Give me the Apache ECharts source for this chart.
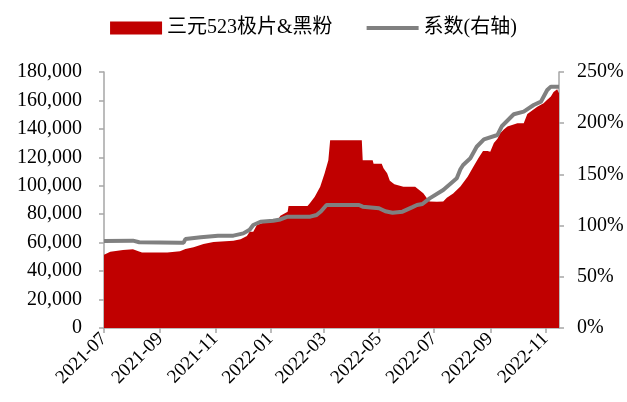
<!DOCTYPE html>
<html>
<head>
<meta charset="utf-8">
<script src="https://cdn.jsdelivr.net/npm/echarts@6/dist/echarts.min.js"></script>
<style>
  html, body { margin: 0; padding: 0; background: #fff; }
  #chart { width: 627px; height: 402px; }
</style>
</head>
<body>
<div id="chart"></div>
<script>
// 三元523极片&黑粉 price (left axis)
var priceDates = ['2021-07-01','2021-07-08','2021-07-22','2021-08-02','2021-08-08','2021-08-12','2021-09-09','2021-09-10','2021-09-23','2021-09-29',
  '2021-10-08','2021-10-19','2021-10-30','2021-11-21','2021-11-29','2021-12-06','2021-12-09','2021-12-13','2021-12-17','2021-12-28',
  '2022-01-09','2022-01-12','2022-01-20','2022-01-21','2022-02-11','2022-02-14','2022-02-19','2022-02-25','2022-03-02','2022-03-06',
  '2022-03-08','2022-04-12','2022-04-13','2022-04-24','2022-04-25','2022-05-04','2022-05-06','2022-05-10','2022-05-13','2022-05-18',
  '2022-05-28','2022-06-10','2022-06-12','2022-06-19','2022-06-23','2022-06-26','2022-07-04','2022-07-11','2022-07-15','2022-07-22',
  '2022-07-30','2022-08-07','2022-08-13','2022-08-19','2022-08-24','2022-08-29','2022-09-01','2022-09-05','2022-09-09','2022-09-12',
  '2022-09-16','2022-09-20','2022-10-01','2022-10-08','2022-10-12','2022-10-23','2022-10-30','2022-11-03','2022-11-07','2022-11-10',
  '2022-11-14','2022-11-16'];
var priceValues = [51500,53700,54800,55300,54000,53000,53000,53700,54000,55500,
  56700,59000,60500,61400,62400,64700,67700,67700,72400,74800,
  76000,79000,81800,85800,85800,88000,92300,99400,109000,118000,
  132000,132000,118000,118000,115500,115500,112300,108800,103500,101000,
  99400,99400,98000,94700,91200,89000,88800,89000,91500,94500,
  99500,106400,113000,119500,124500,124500,124000,130000,133000,137000,
  139500,141600,144000,144000,150500,155500,158000,160500,162700,166000,
  167800,165000];

// 系数 (right axis, %)
var ratioDates = ['2021-07-01','2021-08-02','2021-08-09','2021-09-23','2021-09-27','2021-09-29','2021-10-16','2021-11-04','2021-11-21','2021-12-02',
  '2021-12-09','2021-12-13','2021-12-21','2022-01-04','2022-01-12','2022-01-20','2022-02-14','2022-02-21','2022-02-26','2022-03-04',
  '2022-04-09','2022-04-13','2022-05-01','2022-05-08','2022-05-16','2022-05-27','2022-06-07','2022-06-12','2022-06-18','2022-06-26',
  '2022-07-11','2022-07-26','2022-07-30','2022-08-02','2022-08-10','2022-08-17','2022-08-25','2022-09-09','2022-09-14','2022-09-27',
  '2022-10-08','2022-10-19','2022-10-27','2022-11-03','2022-11-07','2022-11-16'];
var ratioValues = [85,85.3,83.7,83.3,83.3,86.9,88.6,90.2,90.2,92.4,
  96,100.6,103.8,104.8,106,108.7,108.7,110.4,114,120.1,
  120.1,118.5,116.9,114,112.6,113.6,118,120.1,121.1,126.6,
  134.8,146.2,155,159.2,165.7,177,184.2,188.5,197.3,208.7,
  211.3,217.8,221,232.4,235.7,235.7];

var tickLabels = ['2021-07','2021-09','2021-11','2022-01','2022-03','2022-05','2022-07','2022-09','2022-11'];

function toTs(s) {
  var p = s.split('-');
  return new Date(+p[0], +p[1] - 1, +(p[2] || 1)).getTime();
}
function pairs(dates, vals) {
  return dates.map(function (d, i) { return [toTs(d), vals[i]]; });
}
var tickValues = tickLabels.map(toTs);

var font = '"Liberation Serif", "Times New Roman", "Noto Sans CJK SC", serif';
var axisGray = '#A6A6A6';

var chart = echarts.init(document.getElementById('chart'));
chart.setOption({
  animation: false,
  grid: { left: 104, right: 68, top: 72, bottom: 74 },
  legend: {
    top: 13,
    left: 'center',
    itemWidth: 52,
    itemHeight: 13,
    itemGap: 34,
    textStyle: { fontFamily: font, fontSize: 20, color: '#000' },
    data: [
      { name: '三元523极片&黑粉', icon: 'rect' },
      { name: '系数(右轴)', icon: 'path://M0,0L0,0M0,4.5L52,4.5L52,8.5L0,8.5ZM52,13L52,13', itemStyle: { color: '#808080' } }
    ]
  },
  xAxis: {
    type: 'value',
    min: toTs('2021-07-01'),
    max: toTs('2022-11-16'),
    axisLine: { lineStyle: { color: axisGray, width: 1.5 } },
    axisTick: { show: true, length: 5, customValues: tickValues, lineStyle: { color: axisGray, width: 1.5 } },
    splitLine: { show: false },
    axisLabel: {
      customValues: tickValues,
      rotate: 45,
      margin: 8,
      fontFamily: font,
      fontSize: 19,
      color: '#000',
      formatter: function (v) {
        var d = new Date(v);
        var m = d.getMonth() + 1;
        return d.getFullYear() + '-' + (m < 10 ? '0' + m : m);
      }
    }
  },
  yAxis: [{
    type: 'value',
    min: 0,
    max: 180000,
    interval: 20000,
    axisLine: { show: true, lineStyle: { color: axisGray, width: 1.5 } },
    axisTick: { show: true, length: 5, lineStyle: { color: axisGray, width: 1.5 } },
    splitLine: { show: false },
    axisLabel: {
      fontFamily: font, fontSize: 20, color: '#000', margin: 22,
      formatter: function (v) { return v.toString().replace(/\B(?=(\d{3})+(?!\d))/g, ','); }
    }
  }, {
    type: 'value',
    min: 0,
    max: 250,
    interval: 50,
    position: 'right',
    axisLine: { show: true, lineStyle: { color: axisGray, width: 1.5 } },
    axisTick: { show: true, length: 5, lineStyle: { color: axisGray, width: 1.5 } },
    splitLine: { show: false },
    axisLabel: { fontFamily: font, fontSize: 20, color: '#000', margin: 18, formatter: '{value}%' }
  }],
  series: [{
    name: '三元523极片&黑粉',
    type: 'line',
    yAxisIndex: 0,
    symbol: 'none',
    itemStyle: { color: '#C00000' },
    lineStyle: { width: 0 },
    areaStyle: { color: '#C00000', opacity: 1 },
    data: pairs(priceDates, priceValues)
  }, {
    name: '系数(右轴)',
    type: 'line',
    yAxisIndex: 1,
    symbol: 'none',
    itemStyle: { color: '#808080' },
    lineStyle: { width: 4, color: '#808080' },
    data: pairs(ratioDates, ratioValues)
  }]
});
</script>
</body>
</html>
